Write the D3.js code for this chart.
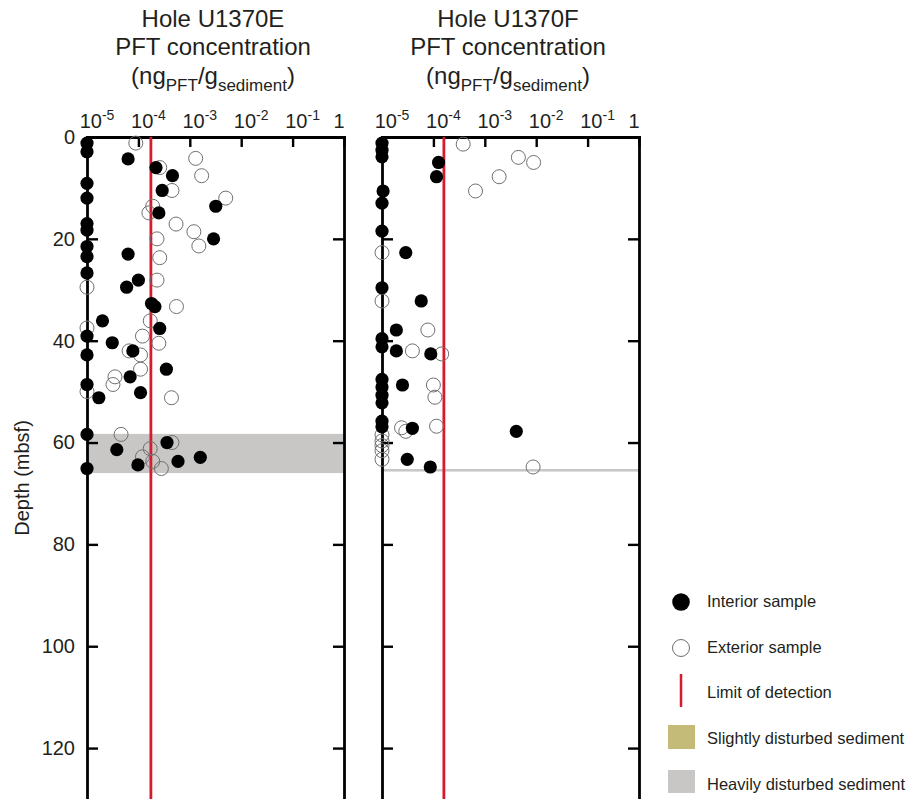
<!DOCTYPE html>
<html>
<head>
<meta charset="utf-8">
<script src="https://cdn.jsdelivr.net/npm/d3@7"></script>
<style>
  body { margin: 0; background: #fff; }
  svg { display: block; font-family: "Liberation Sans", Arial, Helvetica, sans-serif; }
</style>
</head>
<body>
<svg id="chart" width="910" height="799"></svg>
<script>
// PFT concentrations (ng PFT / g sediment) by depth (mbsf), as [depth, concentration]
const holeE_interior = [
  [1.2, 1e-5], [2.9, 1e-5], [4.3, 6.3e-5], [6.0, 2.2e-4], [7.6, 4.6e-4], [9.1, 1e-5],
  [10.5, 2.9e-4], [12.0, 1e-5], [13.6, 3.2e-3], [14.9, 2.5e-4], [17.0, 1e-5], [18.3, 1e-5],
  [20.0, 2.9e-3], [21.5, 1e-5], [23.0, 6.3e-5], [23.5, 1e-5], [26.7, 1e-5], [28.1, 1.0e-4],
  [29.5, 5.9e-5], [32.7, 1.8e-4], [33.3, 2.1e-4], [36.1, 2.0e-5], [37.6, 2.6e-4], [39.1, 1e-5],
  [40.4, 3.1e-5], [42.0, 7.8e-5], [42.8, 1e-5], [45.6, 3.5e-4], [47.1, 6.9e-5], [48.6, 1e-5],
  [50.2, 1.1e-4], [51.2, 1.7e-5], [58.4, 1e-5], [60.0, 3.6e-4], [61.4, 3.8e-5], [62.9, 1.6e-3],
  [63.7, 5.9e-4], [64.4, 9.8e-5], [65.1, 1e-5]
];
const holeE_exterior = [
  [1.2, 8.9e-5], [4.2, 1.3e-3], [6.0, 2.6e-4], [7.6, 1.7e-3], [10.5, 4.5e-4], [12.0, 5.0e-3],
  [13.6, 1.9e-4], [14.9, 1.6e-4], [17.1, 5.4e-4], [18.6, 1.2e-3], [20.0, 2.3e-4], [21.4, 1.5e-3],
  [23.7, 2.6e-4], [28.1, 2.3e-4], [29.5, 1e-5], [33.3, 5.5e-4], [36.1, 1.7e-4], [37.5, 1e-5],
  [39.1, 1.2e-4], [40.5, 2.5e-4], [42.0, 6.6e-5], [42.8, 1.1e-4], [45.6, 1.1e-4], [47.1, 3.5e-5],
  [48.6, 3.2e-5], [50.0, 1e-5], [51.2, 4.4e-4], [58.4, 4.6e-5], [60.0, 4.5e-4], [61.2, 1.7e-4],
  [62.8, 1.2e-4], [63.7, 1.9e-4], [65.1, 2.8e-4]
];
const holeF_interior = [
  [1.2, 1e-5], [2.6, 1e-5], [3.9, 1e-5], [5.0, 1.26e-4], [7.8, 1.15e-4], [10.6, 1.05e-5],
  [13.0, 1e-5], [18.5, 1e-5], [22.7, 2.9e-5], [29.6, 1e-5], [32.2, 5.8e-5], [37.9, 1.9e-5],
  [39.6, 1e-5], [41.2, 1e-5], [42.0, 1.9e-5], [42.6, 8.9e-5], [47.6, 1e-5], [48.7, 2.5e-5],
  [49.1, 1e-5], [50.7, 1e-5], [52.2, 1e-5], [55.8, 1e-5], [56.9, 1e-5], [57.2, 3.9e-5],
  [57.8, 4.1e-3], [63.3, 3.1e-5], [64.8, 8.7e-5]
];
const holeF_exterior = [
  [1.4, 3.8e-4], [4.0, 4.5e-3], [5.0, 8.9e-3], [7.8, 1.9e-3], [10.6, 6.6e-4], [22.7, 1e-5],
  [32.2, 1e-5], [37.9, 7.8e-5], [42.0, 3.9e-5], [42.6, 1.45e-4], [48.7, 1.0e-4], [51.1, 1.07e-4],
  [56.8, 1.15e-4], [57.1, 2.4e-5], [57.8, 2.9e-5], [58.5, 1e-5], [59.7, 1e-5], [60.6, 1e-5],
  [61.6, 1e-5], [63.3, 1e-5], [64.8, 8.7e-3]
];
// detection limits and heavily disturbed intervals [top, bottom] (mbsf)
const detectionLimits = [1.75e-4, 1.6e-4];
const heavyDisturbed = [[58.3, 66.0], [65.2, 65.7]];
const holeNames = ["Hole U1370E", "Hole U1370F"];
const xTickValues = [1e-5, 1e-4, 1e-3, 1e-2, 1e-1, 1];
const xTickExponents = ["-5", "-4", "-3", "-2", "-1", null];
const depthTicks = [0, 20, 40, 60, 80, 100, 120];
const legendLabels = ["Interior sample", "Exterior sample", "Limit of detection",
  "Slightly disturbed sediment", "Heavily disturbed sediment"];

const svg = d3.select("#chart");
const textColor = "#231f20";
const redColor = "#d71a2e";
const heavyColor = "#c8c7c5";
const slightColor = "#c3bb77";
const panels = [[87, 344], [382, 639]];
const y = d3.scaleLinear().domain([0, 130]).range([137, 799]);

const panelData = [
  { interior: holeE_interior, exterior: holeE_exterior },
  { interior: holeF_interior, exterior: holeF_exterior }
];

panels.forEach(([x0, x1], i) => {
  const x = d3.scaleLog().domain([1e-5, 1]).range([x0, x1]);
  const g = svg.append("g");
  const cx = (x0 + x1) / 2 - 2.5;

  // title block
  const title = g.append("g").attr("fill", textColor).attr("text-anchor", "middle").attr("font-size", 24);
  title.append("text").attr("x", cx).attr("y", 27).text(holeNames[i]);
  title.append("text").attr("x", cx).attr("y", 55).text("PFT concentration");
  const unit = title.append("text").attr("x", cx).attr("y", 84);
  unit.append("tspan").text("(ng");
  unit.append("tspan").attr("font-size", 17).attr("dy", 7).text("PFT");
  unit.append("tspan").attr("dy", -7).text("/g");
  unit.append("tspan").attr("font-size", 17).attr("dy", 7).text("sediment");
  unit.append("tspan").attr("dy", -7).text(")");

  // heavily disturbed interval
  const [bt, bb] = heavyDisturbed[i];
  g.append("rect").attr("x", x0).attr("width", x1 - x0)
    .attr("y", y(bt)).attr("height", y(bb) - y(bt)).attr("fill", heavyColor);

  // top axis (ticks pointing down)
  const top = g.append("g").attr("transform", `translate(0,${y(0)})`)
    .call(d3.axisTop(x).tickValues(xTickValues).tickSizeInner(-10).tickSizeOuter(0).tickFormat(""));
  top.select(".domain").attr("stroke-width", 2.8).attr("stroke-linecap", "square");
  top.selectAll(".tick line").attr("stroke-width", 2.4);

  // tick labels as powers of ten
  xTickValues.forEach((v, k) => {
    const t = g.append("text").attr("y", 128).attr("fill", textColor).attr("font-size", 20)
      .attr("text-anchor", "middle");
    if (xTickExponents[k] === null) {
      t.attr("x", x(v) - 5).text("1");
    } else {
      t.attr("x", x(v) + 10);
      t.append("tspan").text("10");
      t.append("tspan").attr("font-size", 14).attr("dy", -8).text(xTickExponents[k]);
    }
  });

  // left and right depth axes (ticks pointing inward)
  const left = g.append("g").attr("transform", `translate(${x0},0)`)
    .call(d3.axisLeft(y).tickValues(depthTicks).tickSizeInner(-11).tickSizeOuter(0).tickPadding(12)
      .tickFormat(i === 0 ? d3.format("d") : ""));
  const right = g.append("g").attr("transform", `translate(${x1},0)`)
    .call(d3.axisRight(y).tickValues(depthTicks).tickSizeInner(-11).tickSizeOuter(0).tickFormat(""));
  [left, right].forEach(a => {
    a.select(".domain").attr("stroke-width", 2.8).attr("stroke-linecap", "square");
    a.selectAll(".tick line").attr("stroke-width", 2.4);
  });
  left.selectAll(".tick text").attr("font-size", 20).attr("fill", textColor)
    .attr("font-family", "Liberation Sans, Arial, Helvetica, sans-serif");

  // detection limit
  g.append("line").attr("x1", x(detectionLimits[i])).attr("x2", x(detectionLimits[i]))
    .attr("y1", y(0)).attr("y2", y(130)).attr("stroke", redColor).attr("stroke-width", 2.8);

  // exterior (open) and interior (filled) samples
  g.append("g").selectAll("circle").data(panelData[i].exterior).join("circle")
    .attr("cx", d => x(d[1])).attr("cy", d => y(d[0])).attr("r", 7)
    .attr("fill", "none").attr("stroke", "#6f6f6f").attr("stroke-width", 1);
  g.append("g").selectAll("circle").data(panelData[i].interior).join("circle")
    .attr("cx", d => x(d[1])).attr("cy", d => y(d[0])).attr("r", 6.6).attr("fill", "#000");
});

// depth axis title
svg.append("text").attr("transform", "translate(29,478) rotate(-90)")
  .attr("text-anchor", "middle").attr("font-size", 20).attr("fill", textColor).text("Depth (mbsf)");

// legend
const legend = svg.append("g");
const lx = 681, tx = 707;
const rowBase = [607, 653, 698, 744, 790];
legend.append("circle").attr("cx", lx).attr("cy", 602).attr("r", 8.8).attr("fill", "#000");
legend.append("circle").attr("cx", lx).attr("cy", 648).attr("r", 8.5)
  .attr("fill", "none").attr("stroke", "#6f6f6f").attr("stroke-width", 1);
legend.append("line").attr("x1", lx).attr("x2", lx).attr("y1", 674).attr("y2", 707)
  .attr("stroke", redColor).attr("stroke-width", 2.5);
legend.append("rect").attr("x", 668).attr("y", 725).attr("width", 27).attr("height", 24).attr("fill", slightColor);
legend.append("rect").attr("x", 668).attr("y", 770).attr("width", 27).attr("height", 23).attr("fill", heavyColor);
legend.selectAll("text.lab").data(legendLabels).join("text").attr("class", "lab")
  .attr("x", tx).attr("y", (d, k) => rowBase[k]).attr("font-size", 16.5).attr("fill", textColor).text(d => d);
</script>
</body>
</html>
